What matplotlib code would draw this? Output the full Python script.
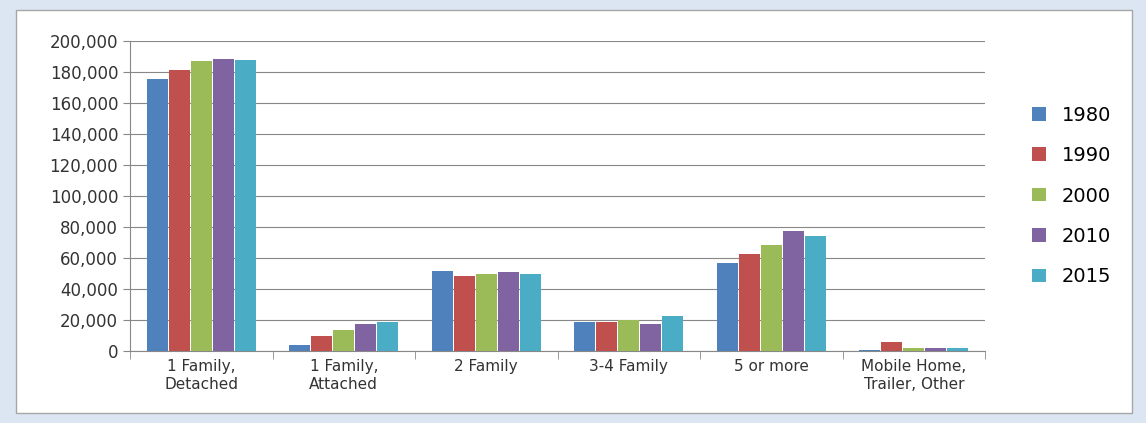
import matplotlib
matplotlib.use("Agg")
import matplotlib.pyplot as plt
import numpy as np
from matplotlib.patches import Rectangle

categories = ["1 Family,\nDetached", "1 Family,\nAttached", "2 Family", "3-4 Family", "5 or more", "Mobile Home,\nTrailer, Other"]
years = ["1980", "1990", "2000", "2010", "2015"]
v1980 = [175500, 3900, 51600, 18700, 56800, 600]
v1990 = [181000, 9700, 48400, 18700, 62600, 5800]
v2000 = [187000, 13500, 49700, 20000, 68400, 1900]
v2010 = [188500, 17400, 51000, 17400, 77400, 1900]
v2015 = [187800, 18700, 49700, 22600, 74200, 1900]
series = [v1980, v1990, v2000, v2010, v2015]
colors = ["#4F81BD", "#C0504D", "#9BBB59", "#8064A2", "#4BACC6"]

W, H = 1146, 423
fig = plt.figure(figsize=(W/100, H/100), dpi=100)
fig.patch.set_facecolor("#DCE6F2")
fig.add_artist(Rectangle((16/W, 10/H), (W-30)/W, (H-20)/H, transform=fig.transFigure,
                         facecolor="white", edgecolor="#A6A6A6", lw=1, zorder=-5))
ax = fig.add_axes([130/W, 1-351/H, 855/W, 310/H])
ax.patch.set_alpha(0)
x = np.arange(len(categories))
bw = 0.155
for i, (s, c, y) in enumerate(zip(series, colors, years)):
    ax.bar(x + (i-2)*bw, s, bw*0.95, color=c, label=y, zorder=3)
ax.set_xlim(-0.5, len(categories)-0.5)
ax.set_ylim(0, 200000)
ax.set_yticks(range(0, 200001, 20000))
ax.set_yticklabels([f"{v:,}" for v in range(0, 200001, 20000)], fontsize=12, color="#333333")
ax.set_xticks(x)
ax.set_xticklabels(categories, fontsize=11, color="#333333")
ax.grid(axis="y", color="#888888", lw=0.8, zorder=0)
for sp in ["top", "right"]:
    ax.spines[sp].set_visible(False)
ax.spines["left"].set_color("#888888")
ax.spines["bottom"].set_color("#888888")
ax.set_xticks(np.arange(-0.5, len(categories)), minor=True)
ax.tick_params(axis="x", which="major", length=0, pad=6)
ax.tick_params(axis="x", which="minor", length=6, color="#888888")
ax.tick_params(axis="y", length=5, color="#888888")
ax.legend(loc="center left", bbox_to_anchor=(1.035, 0.5), frameon=False, fontsize=14,
          handlelength=0.7, handleheight=0.7, labelspacing=1.1)
fig.savefig("out.png", dpi=100, facecolor=fig.get_facecolor())
